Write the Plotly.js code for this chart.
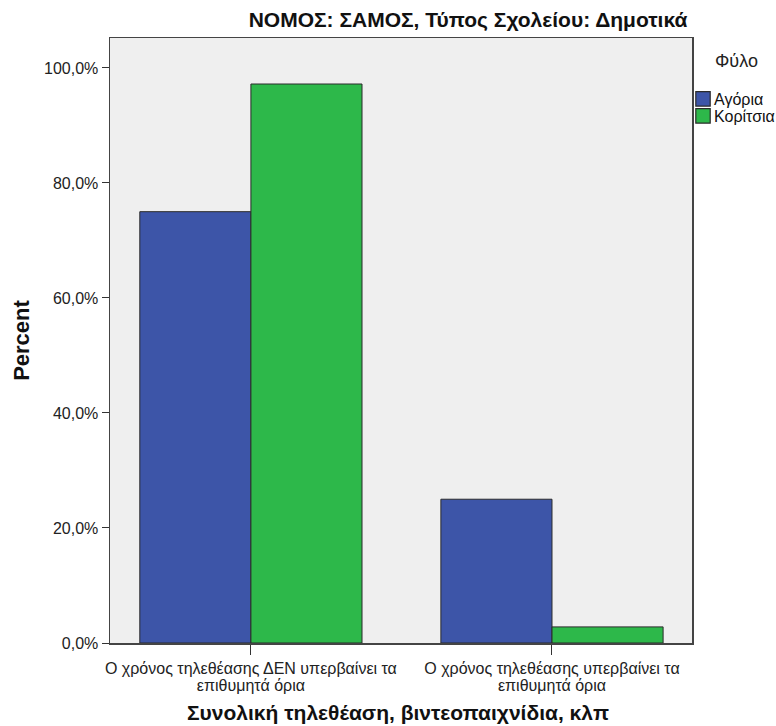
<!DOCTYPE html>
<html><head><meta charset="utf-8">
<script src="https://cdn.plot.ly/plotly-3.0.1.min.js"></script>
<style>html,body{margin:0;padding:0;background:#fff}</style>
</head><body>
<div id="chart" style="width:776px;height:726px"></div>
<script>
var categories = ["Ο χρόνος τηλεθέασης ΔΕΝ υπερβαίνει τα<br>επιθυμητά όρια", "Ο χρόνος τηλεθέασης υπερβαίνει τα<br>επιθυμητά όρια"];
var seriesNames = ["Αγόρια", "Κορίτσια"];
var legendTitle = "Φύλο";
var boys = [75.0, 25.0];
var girls = [97.2, 2.8];
var tickVals = [0, 20, 40, 60, 80, 100];
var tickText = ["0,0%", "20,0%", "40,0%", "60,0%", "80,0%", "100,0%"];

var barLine = {color: '#2b2b2b', width: 1};
var traces = [
  {type: 'bar', name: seriesNames[0], x: [0, 1], y: boys, marker: {color: '#3D55A8', line: barLine}},
  {type: 'bar', name: seriesNames[1], x: [0, 1], y: girls, marker: {color: '#2DB84A', line: barLine}}
];
var layout = {
  width: 776, height: 726,
  margin: {l: 110, r: 84, t: 38, b: 83, autoexpand: false},
  paper_bgcolor: '#ffffff', plot_bgcolor: '#EFEFEF',
  barmode: 'group', bargap: 0.262, bargroupgap: 0,
  font: {family: 'Liberation Sans, Arial, sans-serif', size: 12, color: '#222'},
  title: {text: 'ΝΟΜΟΣ: ΣΑΜΟΣ, Τύπος Σχολείου: Δημοτικά', x: 468/776, xanchor: 'center', y: 1 - 20/726, yanchor: 'middle',
          font: {family: 'Liberation Sans, Arial', size: 21, color: '#111', weight: 'bold'}},
  xaxis: {
    range: [-0.468, 1.465], tickmode: 'array', tickvals: [0, 1], ticktext: categories,
    ticks: 'outside', ticklen: 10, tickcolor: '#333', tickwidth: 1,
    showline: true, linecolor: '#444', linewidth: 1.5, mirror: true, showgrid: false, zeroline: false,
    tickfont: {family: 'Liberation Sans, Arial', size: 16, color: '#222'}
  },
  yaxis: {
    range: [0, 105.2], tickmode: 'array', tickvals: tickVals, ticktext: tickText,
    ticks: 'outside', ticklen: 7, tickcolor: '#333', tickwidth: 1,
    showline: true, linecolor: '#444', linewidth: 1.5, mirror: true, showgrid: false, zeroline: false,
    tickfont: {family: 'Liberation Sans, Arial', size: 16, color: '#222'},
    title: {text: 'Percent', standoff: 8, font: {family: 'Liberation Sans, Arial', size: 22, color: '#111', weight: 'bold'}}
  },
  annotations: [
    {text: 'Συνολική τηλεθέαση, βιντεοπαιχνίδια, κλπ', xref: 'paper', yref: 'paper',
     x: 0.494, xanchor: 'center', y: (643 - 712) / 605, yanchor: 'middle', showarrow: false,
     font: {family: 'Liberation Sans, Arial', size: 21, color: '#111', weight: 'bold'}},
    {text: legendTitle, xref: 'paper', yref: 'paper',
     x: (736 - 110) / 582, xanchor: 'center', y: (643 - 61) / 605, yanchor: 'middle', showarrow: false,
     font: {family: 'Liberation Sans, Arial', size: 18, color: '#222'}}
  ],
  legend: {
    x: (683 - 110) / 582, xanchor: 'left', y: (643 - 82) / 605, yanchor: 'top',
    bgcolor: 'rgba(0,0,0,0)', tracegroupgap: 0, itemwidth: 30,
    font: {family: 'Liberation Sans, Arial', size: 16, color: '#111'}
  },
  showlegend: true
};
Plotly.newPlot('chart', traces, layout, {displayModeBar: false, staticPlot: true}).then(function () {
  document.querySelectorAll('g.xtick text').forEach(function (txt) {
    var lines = txt.querySelectorAll('tspan.line');
    for (var j = 1; j < lines.length; j++) lines[j].setAttribute('dy', '1.06em');
    var y = parseFloat(txt.getAttribute('y') || '0');
    txt.setAttribute('y', y - 5);
  });
  var items = document.querySelectorAll('g.legend g.traces');
  var y0 = null;
  items.forEach(function (g, i) {
    var tr = g.getAttribute('transform') || '';
    var m = tr.match(/translate\(\s*([-\d.]+)[ ,]+([-\d.]+)\s*\)/);
    if (m) {
      if (y0 === null) y0 = parseFloat(m[2]);
      g.setAttribute('transform', 'translate(' + m[1] + ',' + (y0 + 17 * i) + ')');
    }
  });
  document.querySelectorAll('g.legend .legendtext').forEach(function (t) { t.setAttribute('x', 31); });
  document.querySelectorAll('g.legend .legendpoints path').forEach(function (p) {
    var tr = p.getAttribute('transform') || '';
    p.setAttribute('transform', tr + ' scale(1.2)');
  });
});
</script>
</body></html>
